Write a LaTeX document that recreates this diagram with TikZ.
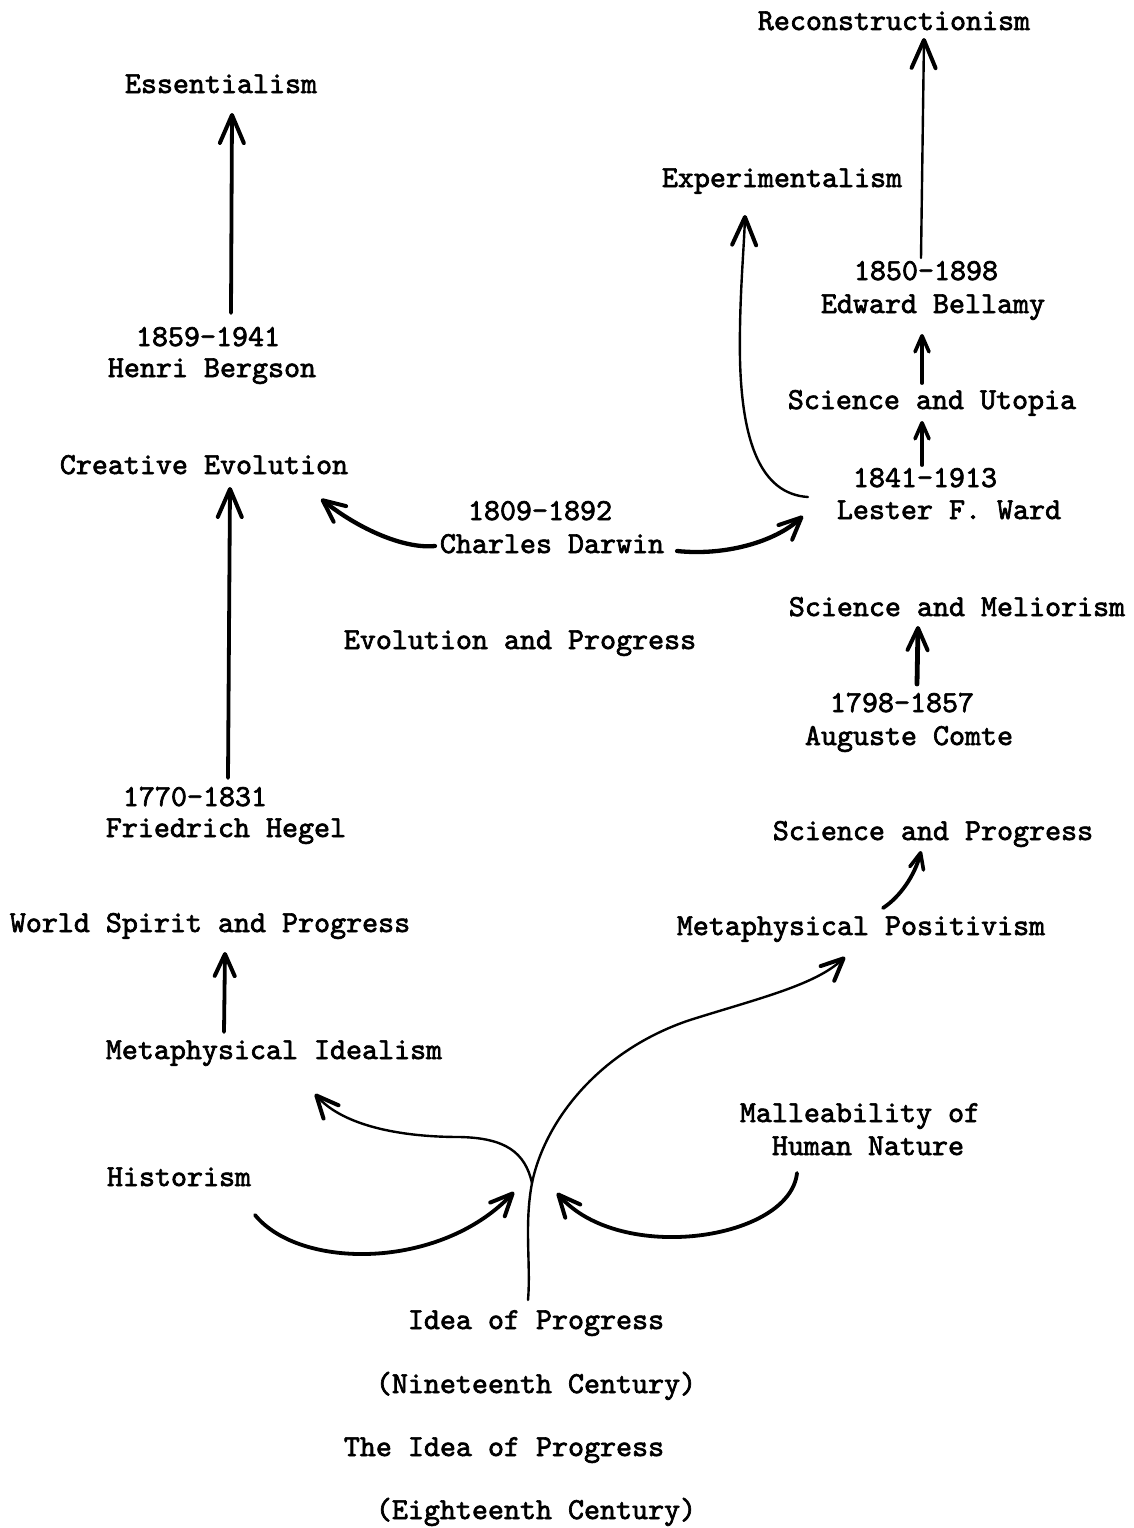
\documentclass[tikz,border=0pt]{standalone}
\usepackage{fontspec}
\usetikzlibrary{arrows.meta}
\newfontfamily\tw{lmmono10-regular.otf}[FakeBold=2.2]

\tikzset{
  lbl/.style={anchor=base, inner sep=0pt, outer sep=0pt,
    text height=20pt, text depth=6pt,
    font={\tw\fontsize{30.5}{33}\selectfont}},
  heavy/.style={line width=3.8pt, line cap=round},
  light/.style={line width=2.4pt, line cap=round},
  bighead/.style={-{Straight Barb[length=28pt,width=24pt,line width=4pt,round]}},
  midhead/.style={-{Straight Barb[length=22pt,width=20pt,line width=4pt,round]}},
  smallhead/.style={-{Straight Barb[length=16pt,width=14pt,line width=3.6pt,round]}},
}

\begin{document}
\begin{tikzpicture}[x=1pt, y=-1pt]
\useasboundingbox (0,0) rectangle (1134,1528);

% left column
\node[lbl] (ess)      at (221,93)   {Essentialism};
\node[lbl] (bergd)    at (208,346)  {1859-1941};
\node[lbl] (bergn)    at (212,377)  {Henri Bergson};
\node[lbl] (creative) at (204,474)  {Creative Evolution};
\node[lbl] (hegd)     at (195,806)  {1770-1831};
\node[lbl] (hegn)     at (226,837)  {Friedrich Hegel};
\node[lbl] (world)    at (210,932)  {World Spirit and Progress};
\node[lbl] (metideal) at (274,1059) {Metaphysical Idealism};
\node[lbl] (hist)     at (179,1186) {Historism};

% middle
\node[lbl] (darwd)    at (540,520)  {1809-1892};
\node[lbl] (darwn)    at (552,553)  {Charles Darwin};
\node[lbl] (evol)     at (520,649)  {Evolution and Progress};

% right column
\node[lbl] (recon)    at (894,30)   {Reconstructionism};
\node[lbl] (exper)    at (782,187)  {Experimentalism};
\node[lbl] (beld)     at (926,280)  {1850-1898};
\node[lbl] (beln)     at (933,313)  {Edward Bellamy};
\node[lbl] (utopia)   at (932,409)  {Science and Utopia};
\node[lbl] (wardd)    at (925,487)  {1841-1913};
\node[lbl] (wardn)    at (949,519)  {Lester F. Ward};
\node[lbl] (melior)   at (957,616)  {Science and Meliorism};
\node[lbl] (comted)   at (902,712)  {1798-1857};
\node[lbl] (comten)   at (909,745)  {Auguste Comte};
\node[lbl] (sciprog)  at (933,840)  {Science and Progress};
\node[lbl] (metpos)   at (861,935)  {Metaphysical Positivism};
\node[lbl] (mall)     at (860,1122) {Malleability of};
\node[lbl] (human)    at (868,1155) {Human Nature};

% bottom
\node[lbl] (idea)     at (536,1329) {Idea of Progress};
\node[lbl] (nine)     at (536,1393) {(Nineteenth Century)};
\node[lbl] (theidea)  at (504,1456) {The Idea of Progress};
\node[lbl] (eight)    at (536,1519) {(Eighteenth Century)};

\coordinate (fork) at (532,1183);

% straight arrows
\draw[heavy,bighead] ([shift={(23,-13)}]bergd.north) -- ([shift={(11,14)}]ess.south);
\draw[heavy,bighead] ([shift={(33,-8)}]hegd.north) -- ([shift={(26,7)}]creative.south);
\draw[heavy,midhead] ([shift={(-50,-7)}]metideal.north) -- ([shift={(15,14)}]world.south);
\draw[heavy,smallhead] ([shift={(-3,-2)}]wardd.north) -- ([shift={(-10,6)}]utopia.south);
\draw[heavy,smallhead] ([shift={(-10,-6)}]utopia.north) -- ([shift={(-11,15)}]beln.south);
\draw[light,bighead] ([shift={(-5,-2)}]beld.north) -- ([shift={(30,2)}]recon.south);
\draw[line width=4.8pt,line cap=round,midhead] ([shift={(15,-8)}]comted.north) -- ([shift={(-39,4)}]melior.south);

% curved arrows
\draw[light,bighead] ([shift={(-29,-15)}]wardn.west)
  .. controls (760,494) and (742,440) .. (740,360)
  .. controls (739,300) and (744,250) .. ([shift={(-37,22)}]exper.south);
\draw[line width=4.3pt,line cap=round,midhead] ([shift={(-5,0)}]darwn.west)
  .. controls (405,549) and (360,530) .. ([shift={(-27,32)}]creative.east);
\draw[line width=4.3pt,line cap=round,midhead] ([shift={(13,5)}]darwn.east)
  .. controls (725,556) and (775,542) .. ([shift={(-34,4)}]wardn.west);
\draw[heavy,smallhead] ([shift={(22,-7)}]metpos.north)
  .. controls (900,897) and (915,875) .. ([shift={(-12,5)}]sciprog.south);

% stem and branches
\draw[light] ([shift={(-8,-9)}]idea.north)
  .. controls (531,1265) and (524,1225) .. (fork);
\draw[light,midhead] (fork)
  .. controls (525,1152) and (505,1138) .. (460,1137)
  .. controls (390,1137) and (340,1122) .. ([shift={(41,29)}]metideal.south);
\draw[light,midhead] (fork)
  .. controls (545,1120) and (600,1050) .. (690,1020)
  .. controls (760,998) and (815,985) .. ([shift={(-16,16)}]metpos.south);

% feeding arrows
\draw[heavy,midhead] ([shift={(76,23)}]hist.south)
  .. controls (300,1270) and (440,1270) .. ([shift={(-18,9)}]fork);
\draw[heavy,midhead] ([shift={(-71,12)}]human.south)
  .. controls (790,1240) and (620,1265) .. ([shift={(25,10)}]fork);
\end{tikzpicture}
\end{document}
